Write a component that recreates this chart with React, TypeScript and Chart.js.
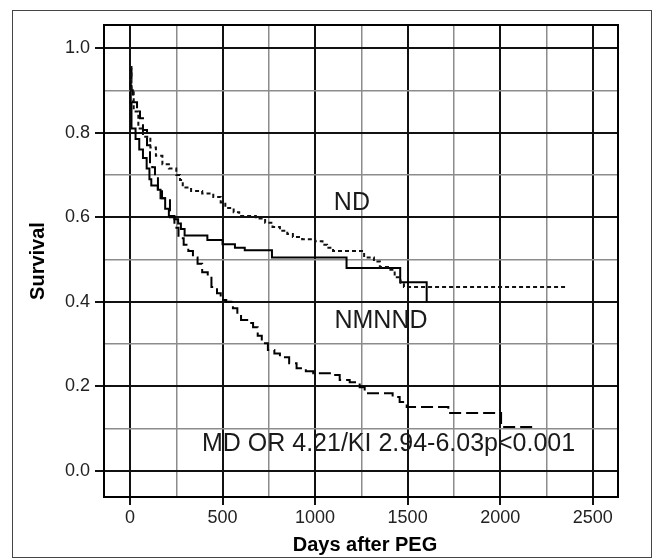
import React, { useEffect, useRef } from 'react';
import { Chart, registerables } from 'chart.js';

Chart.register(...registerables);

// ND curve (short-dashed)
const ndDays = [0, 8, 20, 45, 70, 110, 140, 175, 210, 250, 270, 285, 330, 390, 450, 490, 515, 560, 590, 680, 730, 770, 810, 850, 880, 930, 1000, 1040, 1065, 1097, 1265, 1318, 1350, 1400, 1430, 1462, 1480, 2360];
const ndSurv = [0.955, 0.9, 0.85, 0.81, 0.79, 0.765, 0.745, 0.725, 0.715, 0.7, 0.688, 0.67, 0.662, 0.656, 0.648, 0.635, 0.622, 0.612, 0.603, 0.597, 0.587, 0.577, 0.568, 0.56, 0.553, 0.548, 0.543, 0.535, 0.528, 0.52, 0.505, 0.495, 0.482, 0.476, 0.458, 0.445, 0.435, 0.435];

// NMNND curve (solid)
const nmnndDays = [0, 4, 8, 30, 50, 70, 90, 105, 115, 150, 165, 190, 210, 240, 260, 275, 295, 418, 500, 567, 620, 767, 1170, 1460, 1603];
const nmnndSurv = [0.92, 0.87, 0.81, 0.785, 0.76, 0.74, 0.715, 0.69, 0.675, 0.665, 0.645, 0.62, 0.603, 0.595, 0.585, 0.572, 0.557, 0.546, 0.536, 0.528, 0.522, 0.505, 0.48, 0.446, 0.4];

// MD curve (long-dashed)
const mdDays = [0, 8, 15, 38, 54, 70, 92, 108, 120, 135, 151, 173, 216, 240, 262, 290, 315, 340, 365, 390, 420, 440, 470, 490, 520, 556, 580, 600, 640, 665, 690, 712, 745, 780, 810, 860, 900, 950, 990, 1096, 1133, 1187, 1241, 1268, 1419, 1457, 1495, 1720, 2005, 2175];
const mdSurv = [0.95, 0.9, 0.872, 0.85, 0.834, 0.806, 0.77, 0.723, 0.718, 0.695, 0.664, 0.645, 0.6, 0.575, 0.55, 0.535, 0.52, 0.505, 0.49, 0.47, 0.46, 0.435, 0.42, 0.404, 0.4, 0.385, 0.37, 0.357, 0.35, 0.34, 0.32, 0.302, 0.286, 0.278, 0.269, 0.255, 0.243, 0.236, 0.231, 0.227, 0.215, 0.21, 0.198, 0.184, 0.175, 0.163, 0.151, 0.137, 0.104, 0.104];

// grid / tick positions (major = labelled)
const xTickValues = [0, 250, 500, 750, 1000, 1250, 1500, 1750, 2000, 2250, 2500];
const xMajor = [0, 500, 1000, 1500, 2000, 2500];
const yTickValues = [0, 0.1, 0.2, 0.3, 0.4, 0.5, 0.6, 0.7, 0.8, 0.9, 1.0];
const yMajor = [0, 0.2, 0.4, 0.6, 0.8, 1.0];

const yTitle = 'Survival';
const xTitle = 'Days after PEG';
const labelND = 'ND';
const labelNMNND = 'NMNND';
const statText = 'MD OR 4.21/KI 2.94-6.03p<0.001';

const toPts = (xs: number[], ys: number[]) => xs.map((x, i) => ({ x, y: ys[i] }));

const FONT = '"Liberation Sans", Arial, Helvetica, sans-serif';

const isMajorY = (v: number) => yMajor.some((m) => Math.abs(m - v) < 1e-6);
const isMajorX = (v: number) => xMajor.some((m) => Math.abs(m - v) < 1e-6);

const decor = {
  id: 'decor',
  beforeDraw(chart: any) {
    const ctx = chart.ctx;
    ctx.save();
    ctx.fillStyle = '#fff';
    ctx.fillRect(0, 0, chart.width, chart.height);
    ctx.strokeStyle = '#444';
    ctx.lineWidth = 1;
    ctx.strokeRect(12.5, 10.5, 639, 547);
    ctx.restore();
  },
  beforeDatasetsDraw(chart: any) {
    const ctx = chart.ctx;
    const a = chart.chartArea;
    ctx.save();
    ctx.strokeStyle = '#000';
    ctx.lineWidth = 2;
    ctx.strokeRect(a.left, a.top, a.right - a.left, a.bottom - a.top);
    ctx.restore();
  },
  afterDraw(chart: any) {
    const ctx = chart.ctx;
    const a = chart.chartArea;
    const xs = chart.scales.x;
    const ys = chart.scales.y;
    ctx.save();
    ctx.fillStyle = '#000';
    ctx.font = `bold 20px ${FONT}`;
    ctx.textAlign = 'center';
    ctx.textBaseline = 'middle';
    ctx.fillText(xTitle, 365, 545);
    ctx.translate(38, (a.top + a.bottom) / 2);
    ctx.rotate(-Math.PI / 2);
    ctx.fillText(yTitle, 0, 0);
    ctx.restore();

    ctx.save();
    ctx.fillStyle = '#1a1a1a';
    ctx.font = `25px ${FONT}`;
    ctx.textBaseline = 'middle';
    ctx.textAlign = 'center';
    ctx.fillText(labelND, xs.getPixelForValue(1199), ys.getPixelForValue(0.634));
    ctx.fillText(labelNMNND, xs.getPixelForValue(1356), ys.getPixelForValue(0.355));
    ctx.textAlign = 'left';
    ctx.fillText(statText, xs.getPixelForValue(389), ys.getPixelForValue(0.064));
    ctx.restore();
  },
};

export default function App() {
  const ref = useRef<HTMLCanvasElement | null>(null);
  useEffect(() => {
    if (!ref.current) return;
    const chart = new Chart(ref.current, {
      type: 'line',
      data: {
        datasets: [
          {
            label: 'ND',
            data: toPts(ndDays, ndSurv),
            borderColor: '#111',
            borderWidth: 2,
            borderDash: [4, 3],
            stepped: 'before',
            pointRadius: 0,
            fill: false,
          },
          {
            label: 'NMNND',
            data: toPts(nmnndDays, nmnndSurv),
            borderColor: '#000',
            borderWidth: 2,
            stepped: 'before',
            pointRadius: 0,
            fill: false,
          },
          {
            label: 'MD',
            data: toPts(mdDays, mdSurv),
            borderColor: '#000',
            borderWidth: 2,
            borderDash: [12, 5],
            stepped: 'before',
            pointRadius: 0,
            fill: false,
          },
        ],
      },
      options: {
        animation: false,
        responsive: false,
        devicePixelRatio: 1,
        layout: { padding: { left: 0, top: 25, right: 37, bottom: 0 } },
        plugins: { legend: { display: false }, tooltip: { enabled: false } },
        scales: {
          x: {
            type: 'linear',
            min: -140.5,
            max: 2636.7,
            afterFit: (s: any) => { s.height = 63; },
            afterBuildTicks: (s: any) => { s.ticks = xTickValues.map((v) => ({ value: v })); },
            border: { display: false },
            grid: {
              color: (c: any) => (isMajorX(c.tick.value) ? '#111' : '#8c8c8c'),
              lineWidth: (c: any) => (isMajorX(c.tick.value) ? 2 : 1.5),
              tickColor: (c: any) => (isMajorX(c.tick.value) ? '#111' : 'rgba(0,0,0,0)'),
              tickLength: 8,
              tickWidth: 2,
            },
            ticks: {
              autoSkip: false,
              maxRotation: 0,
              minRotation: 0,
              padding: 2,
              color: '#222',
              font: { family: FONT, size: 18 },
              callback: (v: any) => (isMajorX(Number(v)) ? String(v) : ''),
            },
          },
          y: {
            type: 'linear',
            min: -0.0615,
            max: 1.0544,
            afterFit: (s: any) => { s.width = 104; },
            afterBuildTicks: (s: any) => { s.ticks = yTickValues.map((v) => ({ value: v })); },
            border: { display: false },
            grid: {
              color: (c: any) => (isMajorY(c.tick.value) ? '#111' : '#8c8c8c'),
              lineWidth: (c: any) => (isMajorY(c.tick.value) ? 2 : 1.5),
              tickColor: (c: any) => (isMajorY(c.tick.value) ? '#111' : 'rgba(0,0,0,0)'),
              tickLength: 9,
              tickWidth: 2,
            },
            ticks: {
              autoSkip: false,
              padding: 5,
              color: '#222',
              font: { family: FONT, size: 18 },
              callback: (v: any) => (isMajorY(Number(v)) ? Number(v).toFixed(1) : ''),
            },
          },
        },
      },
      plugins: [decor],
    });
    return () => chart.destroy();
  }, []);
  return (
    <div style={{ position: 'absolute', left: 0, top: 0, width: 655, height: 560, background: '#fff' }}>
      <canvas ref={ref} width={655} height={560} style={{ display: 'block' }} />
    </div>
  );
}
